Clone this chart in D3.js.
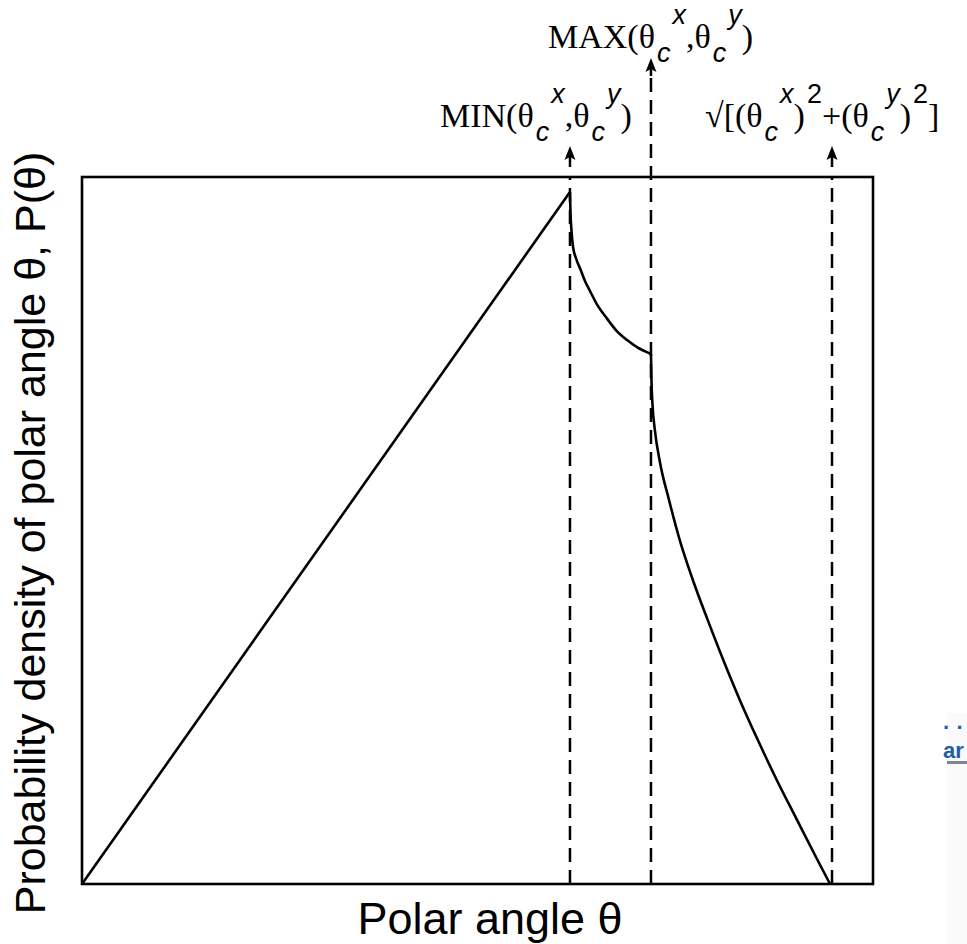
<!DOCTYPE html>
<html>
<head>
<meta charset="utf-8">
<script src="https://cdn.jsdelivr.net/npm/d3@7/dist/d3.min.js"></script>
<style>
    body { margin: 0; background: #fff; }
    svg { display: block; }
</style>
</head>
<body>
<div id="chart"></div>
<script>
//Curve data (theta in units of MIN, P normalised to the peak)
const risingTheta = [0, 1.0];
const risingP = [0, 1.0];

const midTheta = [1.000, 1.001, 1.003, 1.006, 1.012, 1.021, 1.031, 1.041, 1.055, 1.076, 1.096, 1.117, 1.139, 1.166];
const midP = [1.000, 0.971, 0.945, 0.922, 0.905, 0.889, 0.871, 0.857, 0.838, 0.817, 0.799, 0.786, 0.775, 0.766];

const tailTheta = [1.166, 1.167, 1.169, 1.174, 1.184, 1.203, 1.225, 1.252, 1.282, 1.314, 1.348, 1.385, 1.424, 1.465, 1.507, 1.533];
const tailP = [0.766, 0.728, 0.694, 0.656, 0.611, 0.555, 0.497, 0.439, 0.382, 0.324, 0.266, 0.208, 0.150, 0.093, 0.035, 0.000];

//Critical angles: MIN, MAX, sqrt of sum of squares
const criticalTheta = [1.0, 1.166, 1.537];
const criticalLabels = [
    'MIN(θ_{c}^{x},θ_{c}^{y})',
    'MAX(θ_{c}^{x},θ_{c}^{y})',
    '√[(θ_{c}^{x})^{2}+(θ_{c}^{y})^{2}]'
];

const xTitle = 'Polar angle θ';
const yTitle = 'Probability density of polar angle θ, P(θ)';

//Layout
const W = 967, H = 944;
let margin = {top: 177, right: 94, bottom: 60, left: 82},
    width = W - margin.left - margin.right,
    height = H - margin.top - margin.bottom;

let svg = d3.select('#chart')
    .append('svg')
        .attr('width', W)
        .attr('height', H);

let x = d3.scaleLinear()
    .domain([0, 1.621])
    .range([margin.left, margin.left + width]);

let y = d3.scaleLinear()
    .domain([0, 1.0217])
    .range([margin.top + height, margin.top]);

//Dashed guide lines (MAX one runs above the frame)
let guideTop = [y.range()[1], 74, y.range()[1]];
svg.selectAll('.guide')
    .data(criticalTheta)
    .enter()
    .append('line')
        .attr('class', 'guide')
        .attr('x1', d => x(d))
        .attr('x2', d => x(d))
        .attr('y1', y(0))
        .attr('y2', (d, i) => guideTop[i])
        .attr('stroke', '#000')
        .attr('stroke-width', 2.5)
        .attr('stroke-dasharray', '14,8');

//Arrows above the guides
let arrowTip = [146, 58, 146];
let arrowBase = [167, 76, 167];
function arrowHead(cx, tip) {
    let p = d3.path();
    p.moveTo(cx, tip);
    p.lineTo(cx - 5.5, tip + 14);
    p.lineTo(cx, tip + 11);
    p.lineTo(cx + 5.5, tip + 14);
    p.closePath();
    return p.toString();
}
svg.selectAll('.arrow-stem')
    .data(criticalTheta)
    .enter()
    .append('line')
        .attr('class', 'arrow-stem')
        .attr('x1', d => x(d))
        .attr('x2', d => x(d))
        .attr('y1', (d, i) => arrowBase[i])
        .attr('y2', (d, i) => arrowTip[i] + 8)
        .attr('stroke', '#000')
        .attr('stroke-width', 2.5);
svg.selectAll('.arrow-head')
    .data(criticalTheta)
    .enter()
    .append('path')
        .attr('class', 'arrow-head')
        .attr('d', (d, i) => arrowHead(x(d), arrowTip[i]))
        .attr('fill', '#000');

//Curve
let straight = d3.line()
    .x(d => x(d[0]))
    .y(d => y(d[1]));

let smooth = d3.line()
    .x(d => x(d[0]))
    .y(d => y(d[1]))
    .curve(d3.curveMonotoneX);

[[d3.zip(risingTheta, risingP), straight],
 [d3.zip(midTheta, midP), smooth],
 [d3.zip(tailTheta, tailP), smooth]].forEach(function(s) {
    svg.append('path')
        .datum(s[0])
        .attr('fill', 'none')
        .attr('stroke', '#000')
        .attr('stroke-width', 2.6)
        .attr('stroke-linejoin', 'round')
        .attr('d', s[1]);
});

//Frame
svg.append('rect')
    .attr('x', margin.left)
    .attr('y', margin.top)
    .attr('width', width)
    .attr('height', height)
    .attr('fill', 'none')
    .attr('stroke', '#000')
    .attr('stroke-width', 2.6);

//Labels with sub/superscripts
function drawLabel(str, x0, y0) {
    let text = svg.append('text')
        .attr('x', x0)
        .attr('y', y0)
        .attr('font-family', '"Liberation Serif", serif')
        .attr('font-size', 34)
        .attr('fill', '#000');
    let parts = str.match(/_\{[^}]*\}|\^\{[^}]*\}|[^_^]+/g);
    let cur = 0;
    parts.forEach(p => {
        let off = 0, s = p, small = false;
        if (p.startsWith('_{')) { off = 14; s = p.slice(2, -1); small = true; }
        else if (p.startsWith('^{')) { off = -24; s = p.slice(2, -1); small = true; }
        let ts = text.append('tspan').attr('dy', off - cur).text(s);
        cur = off;
        if (small) {
            ts.attr('font-family', '"Liberation Sans", sans-serif')
                .attr('font-size', 27)
                .attr('font-style', /\d/.test(s) ? 'normal' : 'italic')
                .attr('dx', 2);
        }
    });
    return text;
}
let labelPos = [[440, 127], [548, 48], [705, 127]];
criticalLabels.forEach((l, i) => drawLabel(l, labelPos[i][0], labelPos[i][1]));

//Axis titles
svg.append('text')
    .attr('x', 490)
    .attr('y', 934)
    .attr('text-anchor', 'middle')
    .attr('font-family', '"Liberation Sans", sans-serif')
    .attr('font-size', 45)
    .text(xTitle);

svg.append('text')
    .attr('transform', 'translate(45,533) rotate(-90)')
    .attr('text-anchor', 'middle')
    .attr('font-family', '"Liberation Sans", sans-serif')
    .attr('font-size', 43)
    .text(yTitle);

//Cropped fragment of a neighbouring figure at the right edge
svg.append('rect')
    .attr('x', 947).attr('y', 713).attr('width', 20).attr('height', 231)
    .attr('fill', '#fafafa');
svg.append('rect')
    .attr('x', 947).attr('y', 761).attr('width', 20).attr('height', 3)
    .attr('fill', '#7d8699');
svg.append('text')
    .attr('x', 943).attr('y', 735)
    .attr('font-family', '"Liberation Sans", sans-serif')
    .attr('font-weight', 'bold')
    .attr('font-size', 22)
    .attr('fill', '#1d5fa6')
    .text('· ·');
svg.append('text')
    .attr('x', 943).attr('y', 758)
    .attr('font-family', '"Liberation Sans", sans-serif')
    .attr('font-weight', 'bold')
    .attr('font-size', 22)
    .attr('fill', '#1d5fa6')
    .text('ar');
</script>
</body>
</html>
